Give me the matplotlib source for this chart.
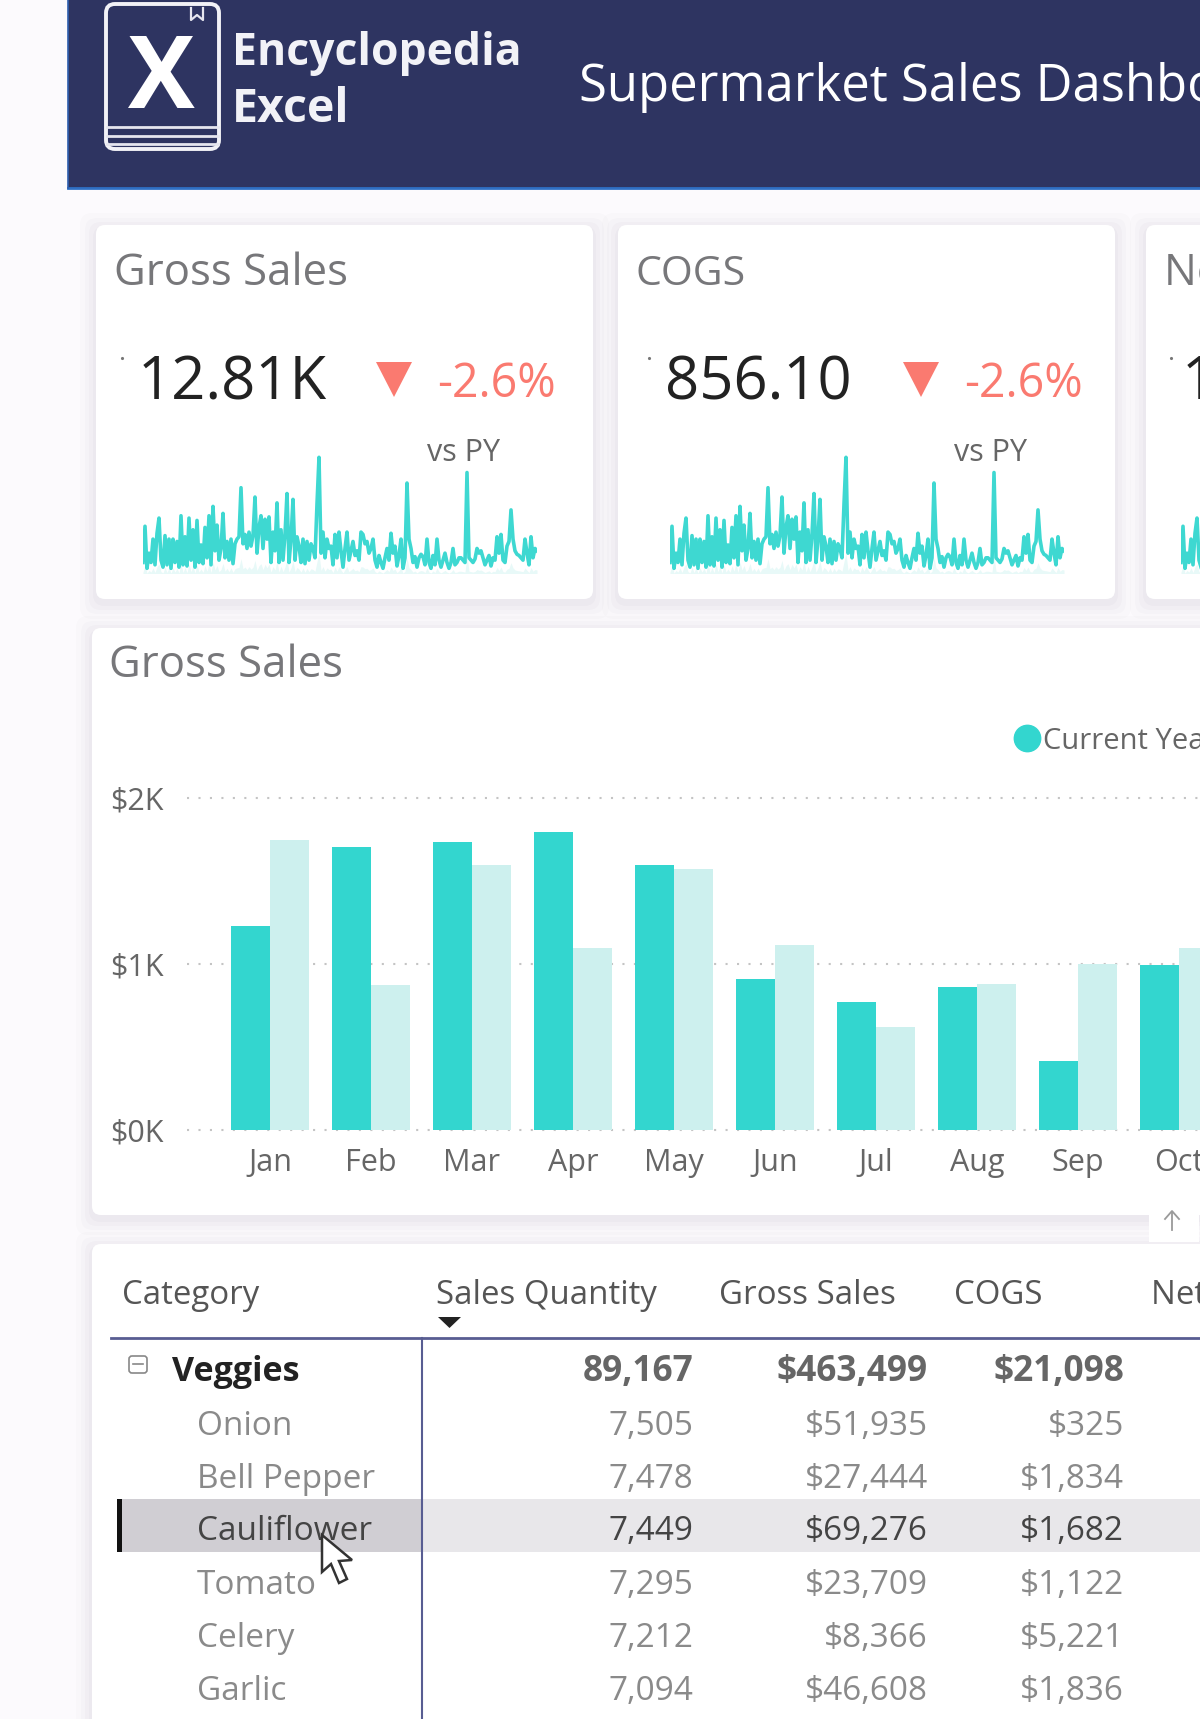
import matplotlib
matplotlib.use('Agg')
import matplotlib.pyplot as plt
from matplotlib.patches import FancyBboxPatch, Rectangle, Polygon
from matplotlib.lines import Line2D

plt.rcParams['font.family'] = ['Open Sans', 'DejaVu Sans']

# monthly gross sales
months = ['Jan', 'Feb', 'Mar', 'Apr', 'May', 'Jun', 'Jul', 'Aug', 'Sep', 'Oct']
current_year = [1229, 1702, 1734, 1794, 1598, 912, 771, 864, 416, 993]
previous_year = [1748, 875, 1598, 1097, 1570, 1113, 621, 878, 998, 1097]
y_ticks = [0, 1000, 2000]
y_tick_labels = ['$0K', '$1K', '$2K']

# daily sparkline, read by eye (100 = tallest spike)
spark = [10, 41, 5, 18, 10, 30, 8, 35, 48, 12,
         6, 33, 8, 30, 5, 30, 10, 28, 6, 50,
         8, 32, 7, 48, 12, 38, 6, 46, 10, 25,
         9, 40, 14, 50, 8, 58, 20, 42, 12, 22,
         52, 14, 28, 12, 30, 9, 26, 30, 32, 74,
         26, 34, 22, 36, 24, 33, 66, 18, 40, 50,
         22, 47, 30, 49, 10, 36, 20, 61, 10, 38,
         12, 34, 69, 10, 30, 64, 12, 32, 24, 10,
         30, 9, 28, 12, 26, 22, 14, 60, 100, 18,
         36, 14, 30, 22, 24, 8, 34, 14, 36, 20,
         6, 22, 36, 12, 20, 28, 16, 20, 12, 36,
         34, 26, 28, 18, 22, 30, 12, 6, 16, 10,
         5, 14, 22, 12, 35, 18, 24, 7, 16, 30,
         5, 14, 78, 30, 22, 10, 15, 6, 14, 17,
         15, 8, 30, 10, 5, 16, 8, 30, 12, 6,
         12, 18, 10, 5, 10, 22, 8, 10, 14, 14,
         12, 10, 87, 14, 12, 10, 13, 22, 18, 20,
         14, 8, 12, 16, 7, 14, 12, 32, 18, 34,
         12, 10, 24, 28, 55, 30, 20, 17, 16, 14,
         12, 30, 18, 8, 32, 14, 22, 20]

# table
table_columns = ['Sales Quantity', 'Gross Sales', 'COGS', 'Net Sales']
row_names = ['Onion', 'Bell Pepper', 'Cauliflower', 'Tomato', 'Celery', 'Garlic']
row_qty = ['7,505', '7,478', '7,449', '7,295', '7,212', '7,094']
row_gross = ['$51,935', '$27,444', '$69,276', '$23,709', '$8,366', '$46,608']
row_cogs = ['$325', '$1,834', '$1,682', '$1,122', '$5,221', '$1,836']
total_values = ['89,167', '$463,499', '$21,098']

W, H = 1200, 1719
TEAL = '#33d6cf'
PALE = '#cdf0ee'
NAVY = '#2e3461'
RED = '#fa7a70'

fig = plt.figure(figsize=(W / 100, H / 100), dpi=100, facecolor='#fcfafd')
bg = fig.add_axes([0, 0, 1, 1])
bg.set_xlim(0, W)
bg.set_ylim(H, 0)
bg.axis('off')


def card(x0, y0, x1, y1):
    for grow, alpha in [(16, 0.010), (11, 0.014), (7, 0.018), (3, 0.025)]:
        bg.add_patch(FancyBboxPatch((x0 - grow, y0 - grow + 4), x1 - x0 + 2 * grow, y1 - y0 + 2 * grow,
                                    boxstyle='round,pad=0,rounding_size=12', fc='#30204a', ec='none', alpha=alpha))
    bg.add_patch(FancyBboxPatch((x0, y0), x1 - x0, y1 - y0, boxstyle='round,pad=0,rounding_size=9',
                                fc='white', ec='none'))


def txt(x, y, s, size, color='#666666', **kw):
    kw.setdefault('va', 'baseline')
    return bg.text(x, y, s, fontsize=size, color=color, **kw)


def sparkline(x0, x1):
    ax = fig.add_axes([x0 / W, 1 - 573 / H, (x1 - x0) / W, (573 - 455) / H])
    ax.patch.set_alpha(0)
    xs = list(range(len(spark)))
    ax.fill_between(xs, 0, [v * 0.18 for v in spark], color='#e8f9f8', lw=0)
    ax.plot(xs, spark, color=TEAL, lw=2.6, solid_joinstyle='round', alpha=0.95)
    ax.set_xlim(0, len(spark) - 1)
    ax.set_ylim(1, 102)
    ax.axis('off')


# header
bg.add_patch(Rectangle((68, 0), W - 68, 188, fc=NAVY, ec='none'))
bg.plot([68, W], [188, 188], color='#2f6fc4', lw=2)
bg.plot([68, 68], [0, 188], color='#2f5fb0', lw=1.2)
# logo
bg.add_patch(FancyBboxPatch((106, 4), 113, 145, boxstyle='round,pad=0,rounding_size=9',
                            fc='none', ec='#f2f2f7', lw=2.8))
for yy in [127, 136, 144]:
    bg.plot([107, 218], [yy, yy], color='#e6e6ef', lw=2)
bg.plot([191, 191, 197, 203, 203], [8, 20, 15, 20, 8], color='#e6e6ef', lw=1.6)
txt(161, 108, 'X', 72, 'white', ha='center', fontweight='bold')
txt(232, 65, 'Encyclopedia', 32, '#f2f2f7', fontweight='bold')
txt(232, 122, 'Excel', 33.5, '#f2f2f7', fontweight='bold')
txt(579, 101, 'Supermarket Sales Dashboard', 36.5, 'white')

# kpi cards
kpi_cards = [(96, 593, 0, 'Gross Sales', '12.81K', 31.5), (618, 1115, 527, 'COGS', '856.10', 29.5),
             (1146, 1300, 1049, 'Net Sales', '11.96K', 31.5)]
for x0, x1, off, title, value, title_size in kpi_cards:
    card(x0, 225, x1, 599)
    txt(x0 + 18, 285, title, title_size, '#77777a')
    txt(off + (138 if off < 1000 else 133), 399, value, 43, '#222222')
    bg.plot([off + 122], [358], marker='.', ms=2.5, color='#777777')
    if off < 1000:
        bg.add_patch(Polygon([(off + 376, 362), (off + 412, 362), (off + 394, 397)], fc=RED, ec='none'))
        txt(off + 437, 397, '-2.6%', 33.5, RED)
        txt(off + 427, 461, 'vs PY', 22, '#666666')
    sparkline(off + 143 if off < 1000 else 1181, off + 537 if off < 1000 else 1575)

# bar chart card
card(92, 628, 1320, 1215)
txt(109, 677, 'Gross Sales', 31.5, '#77777a')

bar_left, bar_right, bar_top, bar_bottom = 187, W, 790, 1140
ax = fig.add_axes([bar_left / W, 1 - bar_bottom / H, (bar_right - bar_left) / W, (bar_bottom - bar_top) / H])
ax.patch.set_alpha(0)
xpos = list(range(len(months)))
bw = 0.39
ax.bar([i - bw / 2 for i in xpos], current_year, bw, color=TEAL, label='Current Year', zorder=3)
ax.bar([i + bw / 2 for i in xpos], previous_year, bw, color=PALE, zorder=3)
ax.set_xlim((bar_left - 270) / 101, (bar_right - 270) / 101)
ax.set_ylim((1130 - bar_bottom) / 0.166, (1130 - bar_top) / 0.166)
ax.set_xticks(xpos)
ax.set_xticklabels(months, fontsize=22, color='#666666')
ax.set_yticks(y_ticks)
ax.set_yticklabels(y_tick_labels, fontsize=22, color='#666666')
ax.tick_params(length=0)
ax.tick_params(axis='y', pad=17)
ax.tick_params(axis='x', pad=6)
ax.grid(axis='y', color='#c4c4c4', lw=1.5, ls=(0, (1, 4.5)), zorder=0)
for s in ax.spines.values():
    s.set_visible(False)
handle = Line2D([], [], marker='o', ls='', color=TEAL, ms=19)
leg = ax.legend(handles=[handle], labels=['Current Year'], frameon=False, fontsize=21, labelcolor='#666666',
                loc='center left', bbox_to_anchor=(1007 / W, 1 - 741 / H), bbox_transform=fig.transFigure,
                handletextpad=-0.15, borderpad=0, borderaxespad=0, handlelength=1.4)

# scroll-up button
bg.add_patch(Rectangle((1149, 1204), 50, 38, fc='white', ec='none', zorder=5))
bg.plot([1172, 1172], [1212, 1230], color='#9a9a9a', lw=1.3, zorder=6)
bg.plot([1165, 1172, 1179], [1219, 1211, 1219], color='#9a9a9a', lw=1.3, zorder=6)

# table card
card(92, 1244, 1320, 1800)
RULE = '#585d92'
col_x = [436, 719, 954, 1151]
txt(122, 1304, 'Category', 23.8, '#555555')
for cx, label in zip(col_x, table_columns):
    txt(cx, 1304, label, 23.8, '#555555')
bg.add_patch(Polygon([(438, 1317), (461, 1317), (449.5, 1328)], fc='#222222', ec='none'))

bg.add_patch(Rectangle((119, 1499), 303, 53, fc='#d0ced3', ec='none'))
bg.add_patch(Rectangle((422, 1499), W - 422, 53, fc='#e8e7ea', ec='none'))
bg.add_patch(Rectangle((117, 1499), 5, 53, fc='#111111', ec='none'))
bg.plot([111, W], [1338, 1338], color=RULE, lw=2)
bg.plot([422, 422], [1338, H], color=RULE, lw=1.5)

# expand icon
bg.add_patch(FancyBboxPatch((129, 1356), 18, 17, boxstyle='round,pad=0,rounding_size=3', fc='none', ec='#888888', lw=1.2))
bg.plot([133, 143], [1364.5, 1364.5], color='#888888', lw=1.2)

right_x = [693, 928, 1124]
txt(172, 1381, 'Veggies', 24.5, '#222222', fontweight='bold')
for rx, value in zip(right_x, total_values):
    txt(rx, 1381, value, 25.4, '#666666', fontweight='bold', ha='right')
row_y = [1435, 1488, 1540, 1594, 1647, 1700]
for i, name in enumerate(row_names):
    highlighted = name == 'Cauliflower'
    c = '#444444' if highlighted else '#8a8a8a'
    txt(197, row_y[i], name, 24, c)
    for rx, col in zip(right_x, [row_qty, row_gross, row_cogs]):
        txt(rx, row_y[i], col[i], 24, c, ha='right')

# mouse pointer
bg.add_patch(Polygon([(322, 1535), (322, 1572), (331, 1564), (339, 1583), (347, 1579), (339, 1561), (352, 1560)],
                     fc='white', ec='#333333', lw=1.8, zorder=8))

fig.savefig('out.png', dpi=100, facecolor=fig.get_facecolor())
